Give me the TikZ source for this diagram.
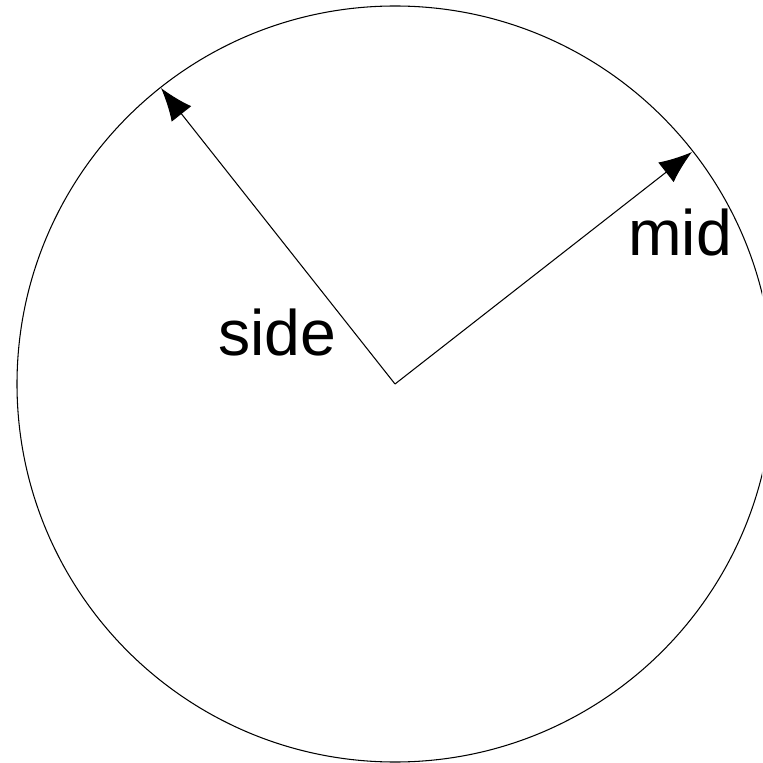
\documentclass[tikz,border=0pt]{standalone}
\usepackage{fontspec}
\setmainfont{Liberation Sans}
\usetikzlibrary{arrows.meta}
\begin{document}
\begin{tikzpicture}[>={Latex[length=3.3mm,width=2.5mm]},line width=0.3pt]
    \tikzset{radius line/.style={->},
             radius label/.style={font=\fontsize{18.3}{20}\selectfont,inner sep=0pt}}
    \useasboundingbox (0,0) rectangle (7.62,-7.63);
    \clip (0,0) rectangle (7.62,-7.63);
    % --- the disc ---
    \coordinate (centre) at (3.95,-3.84);
    \draw (centre) circle[radius=3.78];
    % --- the two radii ---
    \coordinate (side tip) at (1.61,-0.88);
    \coordinate (mid tip) at (6.92,-1.52);
    \draw[radius line] (centre) -- (side tip);
    \draw[radius line] (centre) -- (mid tip);
    \node[radius label] (side label) at (2.77,-3.33) {side};
    \node[radius label] (mid label) at (6.80,-2.33) {mid};
  \end{tikzpicture}
\end{document}
